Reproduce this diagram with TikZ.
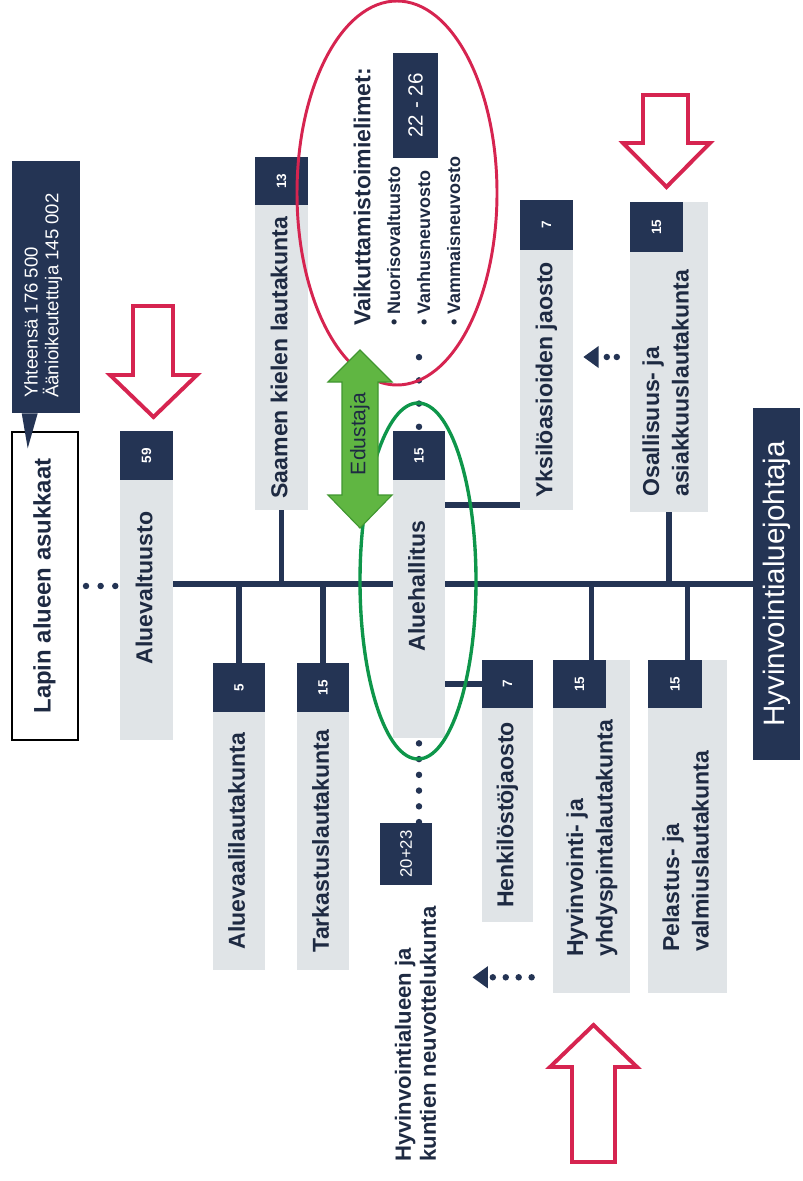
\documentclass[tikz,border=0pt]{standalone}
\usepackage{fontspec}
\setmainfont{Liberation Sans}
\usepackage{graphicx}
\usetikzlibrary{positioning,backgrounds,shapes.geometric,arrows.meta}

\definecolor{navy}{RGB}{36,52,84}
\definecolor{inknavy}{RGB}{30,42,66}
\definecolor{boxgray}{RGB}{224,228,231}
\definecolor{alert}{RGB}{214,36,80}
\definecolor{ringgreen}{RGB}{14,150,74}
\definecolor{arrowgreen}{RGB}{96,182,66}
\definecolor{arrowedge}{RGB}{64,150,48}

\newcommand{\pxu}{0.025cm}
\newcommand{\vtext}[1]{\rotatebox{90}{\begin{tabular}{@{}l@{}}#1\end{tabular}}}

\begin{document}
\begin{tikzpicture}[
  x=0.025cm, y=-0.025cm,
  unit/.style 2 args={
    rectangle,
    fill=boxgray,
    inner sep=0pt,
    minimum width=#1*\pxu,
    minimum height=#2*\pxu,
    text=inknavy,
    font=\bfseries\fontsize{16.4}{21}\selectfont
  },
  num/.style 2 args={
    rectangle,
    fill=navy,
    inner sep=0pt,
    minimum width=#1*\pxu,
    minimum height=#2*\pxu,
    text=white,
    font=\bfseries\fontsize{9.6}{11}\selectfont
  },
  caption/.style={
    inner sep=0pt,
    text=inknavy,
    font=\bfseries\fontsize{16.4}{21}\selectfont
  },
  spine/.style={draw=navy, line width=4.3pt},
  link/.style={draw=navy, line width=4pt},
  dots/.style={draw=navy, line width=4.6pt, line cap=round, dash pattern=on 0pt off #1},
  bigarrow/.style={draw=alert, line width=2.8pt, fill=white, line join=miter},
  ring/.style={ellipse, inner sep=0pt, fill=none}
]
\useasboundingbox (0,0) rectangle (802,1181);

% --- RESIDENTS (left) ---
\node[draw=black, line width=1.4pt, fill=white, inner sep=0pt,
      minimum width=66*\pxu, minimum height=308*\pxu, text=inknavy,
      font=\bfseries\fontsize{17}{20}\selectfont] (residents) at (45,586)
      {\vtext{Lapin alueen asukkaat}};
\node[fill=navy, inner sep=0pt, minimum width=68*\pxu, minimum height=252*\pxu] (callout) at (46,287) {};
\node[inner sep=0pt, text=white, font=\fontsize{13.2}{12.4}\selectfont, anchor=south] (callout_txt) at (44,398)
      {\vtext{Yhteensä 176 500\\Äänioikeutettuja 145 002}};
\fill[navy] ([xshift=10*\pxu]callout.south west) -- ([xshift=26*\pxu]callout.south west)
      -- ([xshift=16*\pxu, yshift=-35*\pxu]callout.south west) -- cycle;

% --- COUNCIL ---
\node[num={53}{49}] (av_num) at (146.5,455.5) {\rotatebox{90}{59}};
\node[unit={53}{260}] (av) at (146.5,610) {};
\node[caption] (av_txt) at (146.5,588) {\vtext{Aluevaltuusto}};

% --- UPPER BRANCHES ---
\node[num={53}{48}] (sam_num) at (281.5,181) {\rotatebox{90}{13}};
\node[unit={53}{305}] (sam) at (281.5,357.5) {\vtext{Saamen kielen lautakunta}};

\node[num={53}{50}] (yks_num) at (546.5,225) {\rotatebox{90}{7}};
\node[unit={53}{260}] (yks) at (546.5,380) {\vtext{Yksilöasioiden jaosto}};

\node[unit={78}{310}] (osal) at (669,357) {};
\node[num={53}{50}] (osal_num) at (656.5,227) {\rotatebox{90}{15}};
\node[caption, anchor=south] (osal_txt) at (668,497) {\vtext{Osallisuus- ja\\asiakkuuslautakunta}};

% --- LOWER BRANCHES ---
\node[num={52}{49}] (avl_num) at (239,687.5) {\rotatebox{90}{5}};
\node[unit={52}{258}] (avl) at (239,841) {\vtext{Aluevaalilautakunta}};

\node[num={52}{49}] (tar_num) at (323,687.5) {\rotatebox{90}{15}};
\node[unit={52}{258}] (tar) at (323,841) {\vtext{Tarkastuslautakunta}};

\node[num={51}{48}] (henk_num) at (507.5,684) {\rotatebox{90}{7}};
\node[unit={51}{214}] (henk) at (507.5,815) {\vtext{Henkilöstöjaosto}};

\node[unit={77}{333}] (hyv) at (591.5,826.5) {};
\node[num={53}{48}] (hyv_num) at (579.5,684) {\rotatebox{90}{15}};
\node[caption, anchor=south] (hyv_txt) at (592,957) {\vtext{Hyvinvointi- ja\\yhdyspintalautakunta}};

\node[unit={79}{333}] (pel) at (687.5,826.5) {};
\node[num={54}{48}] (pel_num) at (675,684) {\rotatebox{90}{15}};
\node[caption, anchor=south] (pel_txt) at (688,952) {\vtext{Pelastus- ja\\valmiuslautakunta}};

% --- BOARD ---
\node[num={52}{49}] (ah_num) at (419,455.5) {\rotatebox{90}{15}};
\node[unit={52}{258}] (ah) at (419,609) {};
\node[caption] (ah_txt) at (419,586) {\vtext{Aluehallitus}};

% --- DIRECTOR ---
\node[fill=navy, inner sep=0pt, minimum width=47*\pxu, minimum height=352*\pxu,
      text=white, font=\fontsize{21}{24}\selectfont] (joh) at (776.5,584) {\rotatebox{90}{Hyvinvointialuejohtaja}};

% --- NEGOTIATION BOARD ---
\node[fill=navy, inner sep=0pt, minimum width=52*\pxu, minimum height=62*\pxu,
      text=white, font=\fontsize{11.9}{13}\selectfont] (neu_num) at (406,854) {\rotatebox{90}{20+23}};
\node[caption, anchor=south west, font=\bfseries\fontsize{15.7}{17.8}\selectfont] (neu) at (393,1162)
      {\vtext{Hyvinvointialueen ja\\kuntien neuvottelukunta}};

% --- INFLUENCE BODIES ---
\node[caption, anchor=south west, font=\bfseries\fontsize{12.8}{21.3}\selectfont] (vaik) at (349,326)
      {\vtext{{\fontsize{16.4}{20}\selectfont Vaikuttamistoimielimet:}\\
              • Nuorisovaltuusto\\ • Vanhusneuvosto\\ • Vammaisneuvosto}};
\node[fill=navy, inner sep=0pt, minimum width=45*\pxu, minimum height=105*\pxu,
      text=white, font=\fontsize{14.6}{16}\selectfont] (vaik_num) at (415.5,105.5) {\rotatebox{90}{22 - 26}};

% --- CONNECTORS ---
\begin{scope}[on background layer]
\draw[spine] (av.east |- joh.west) -- (joh.west);
\draw[link] (sam.south) -- (sam.south |- joh.west);
\draw[link] (osal.south) -- (osal.south |- joh.west);
\draw[link] (avl_num.north) -- (avl_num.north |- joh.west);
\draw[link] (tar_num.north) -- (tar_num.north |- joh.west);
\draw[link] (hyv.north) -- (hyv.north |- joh.west);
\draw[link] (pel.north) -- (pel.north |- joh.west);
\draw[link] (henk_num.west) -- (ah.east |- henk_num.west);
\coordinate (yks_in) at ([yshift=5*\pxu]yks.south west);
\draw[link] (yks_in) -- (ah.east |- yks_in);
\end{scope}

\draw[dots=10.4pt, shorten <=5pt, shorten >=2.2pt] (residents.east) -- (av.west |- residents.east);
\draw[dots=16.5pt, shorten <=2.8pt, shorten >=21pt] (ah_num.north) -- (ah_num.north |- vaik.south);
\draw[dots=11.2pt, shorten <=3.6pt] (ah.south) -- (ah.south |- neu_num.north);
\draw[dots=7.1pt, shorten <=9.2pt, shorten >=7.1pt, -{Triangle[length=11pt,width=15pt]}]
      (osal.west) -- (yks.east |- osal.west);
\coordinate (hyv_out) at ([yshift=16*\pxu]hyv.south west);
\draw[dots=9.2pt, shorten <=15pt, shorten >=28.5pt, -{Triangle[length=11pt,width=15pt]}]
      (hyv_out) -- (neu_num.east |- hyv_out);

% --- HIGHLIGHTS ---
\draw[bigarrow] (133,306) -- (173,306) -- (173,375) -- (197,375) -- (153.5,417)
      -- (110,375) -- (133,375) -- cycle;
\draw[bigarrow] (643,95) -- (688,95) -- (688,143) -- (710,143) -- (666.5,187)
      -- (623,143) -- (643,143) -- cycle;
\draw[bigarrow] (572,1162) -- (615,1162) -- (615,1067) -- (637,1067) -- (593.5,1025)
      -- (550,1067) -- (572,1067) -- cycle;

\node[ring, draw=alert, line width=2.1pt, minimum width=200*\pxu, minimum height=384*\pxu] (vaik_ring) at (397,193) {};
\node[ring, draw=ringgreen, line width=2.4pt, minimum width=116*\pxu, minimum height=356*\pxu] (ah_ring) at (418,581) {};

\draw[fill=arrowgreen, draw=arrowedge, line width=0.8pt, line join=miter]
      (360,350) -- (392,382) -- (378,382) -- (378,495) -- (392,495) -- (360,528)
      -- (328,495) -- (342,495) -- (342,382) -- (328,382) -- cycle;
\node[inner sep=0pt, text=inknavy, font=\fontsize{15}{17}\selectfont] (edu) at (360,434) {\rotatebox{90}{Edustaja}};

\end{tikzpicture}
\end{document}
